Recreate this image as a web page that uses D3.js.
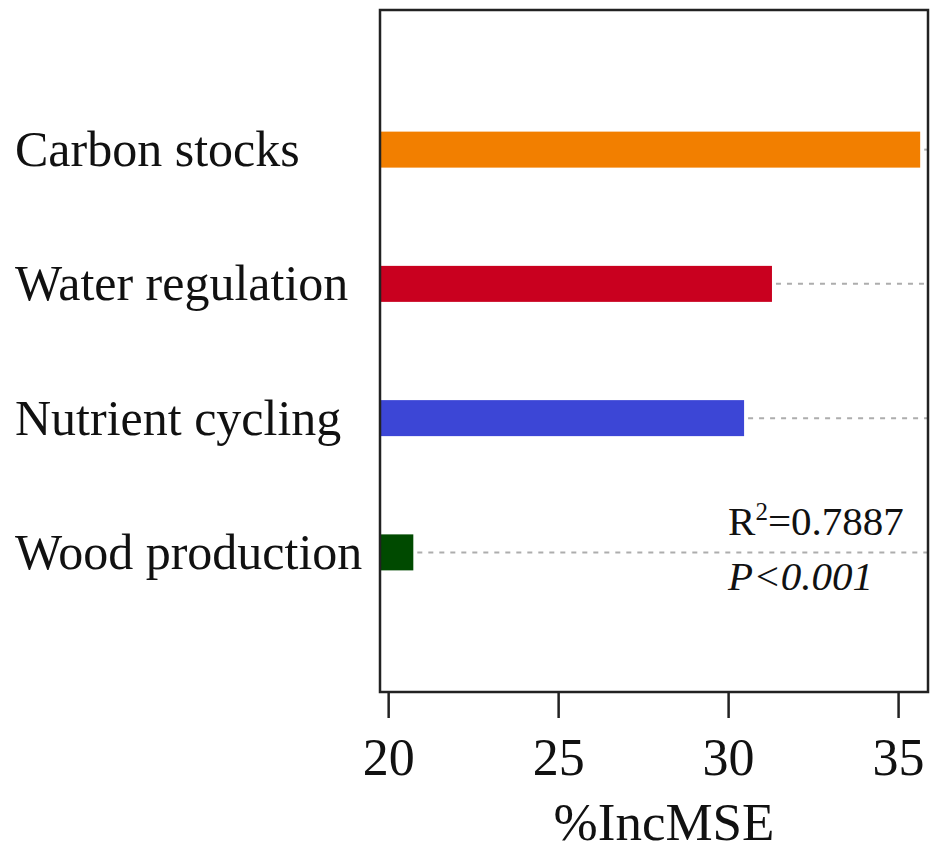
<!DOCTYPE html>
<html>
<head>
<meta charset="utf-8">
<script src="https://cdn.jsdelivr.net/npm/d3@7/dist/d3.min.js"></script>
<style>
  body { margin: 0; background: #fff; }
  svg { display: block; font-family: "Liberation Serif", "Times New Roman", serif; }
</style>
</head>
<body>
<svg id="chart" width="933" height="850"></svg>
<script>
(function() {
    // data
    var categories = ["Carbon stocks", "Water regulation", "Nutrient cycling", "Wood production"];
    var incMSE = [35.65, 31.29, 30.47, 20.74];
    var barColors = ["#f27f00", "#c9001f", "#3c46d6", "#004a00"];
    var tickValues = [20, 25, 30, 35];
    var r2Label = "0.7887";
    var pLabel = "P<0.001";

    var svg = d3.select("#chart"),
        left = 380, right = 928, top = 10, bottom = 692;

    var x = d3.scaleLinear().domain([19.76, 35.88]).range([left, right]);
    var y = d3.scalePoint().domain(categories).range([top, bottom]).padding(1.04);
    var barH = 36;

    var data = categories.map(function(c, i) {
        return { name: c, value: incMSE[i], color: barColors[i] };
    });

    // dotted guide from bar end to the right border
    svg.selectAll("line.guide")
        .data(data)
        .enter().append("line")
        .attr("class", "guide")
        .attr("x1", function(d) { return x(d.value) + 4; })
        .attr("x2", right)
        .attr("y1", function(d) { return y(d.name); })
        .attr("y2", function(d) { return y(d.name); })
        .attr("stroke", "#adadad")
        .attr("stroke-width", 2)
        .attr("stroke-dasharray", "5,6");

    // bars
    svg.selectAll("rect.bar")
        .data(data)
        .enter().append("rect")
        .attr("class", "bar")
        .attr("x", x(x.domain()[0]))
        .attr("y", function(d) { return y(d.name) - barH / 2; })
        .attr("width", function(d) { return x(d.value) - x(x.domain()[0]); })
        .attr("height", barH)
        .attr("fill", function(d) { return d.color; });

    // category labels
    svg.selectAll("text.cat")
        .data(data)
        .enter().append("text")
        .attr("class", "cat")
        .attr("x", 15)
        .attr("y", function(d) { return y(d.name); })
        .attr("dy", "0.33em")
        .attr("font-size", 50)
        .attr("fill", "#111")
        .text(function(d) { return d.name; });

    // frame
    svg.append("rect")
        .attr("x", left).attr("y", top)
        .attr("width", right - left).attr("height", bottom - top)
        .attr("fill", "none")
        .attr("stroke", "#222")
        .attr("stroke-width", 2.5);

    // x axis
    var axis = svg.append("g")
        .attr("transform", "translate(0," + bottom + ")")
        .call(d3.axisBottom(x).tickValues(tickValues).tickSize(26).tickPadding(20).tickFormat(d3.format("d")));
    axis.select(".domain").remove();
    axis.selectAll(".tick line").attr("stroke", "#222").attr("stroke-width", 2.5);
    axis.selectAll(".tick text")
        .attr("font-size", 52)
        .attr("font-family", "Liberation Serif, serif")
        .attr("fill", "#111");

    svg.append("text")
        .attr("x", 664)
        .attr("y", 840)
        .attr("text-anchor", "middle")
        .attr("font-size", 53)
        .attr("fill", "#111")
        .text("%IncMSE");

    // fit statistics
    var yw = y(categories[3]);
    var r2 = svg.append("text")
        .attr("x", x(30))
        .attr("y", yw - 17)
        .attr("font-size", 41)
        .attr("fill", "#111");
    r2.append("tspan").text("R");
    r2.append("tspan").attr("font-size", 25).attr("dy", -15).text("2");
    r2.append("tspan").attr("dy", 15).text("=" + r2Label);

    svg.append("text")
        .attr("x", x(30))
        .attr("y", yw + 38)
        .attr("font-size", 41)
        .attr("font-style", "italic")
        .attr("fill", "#111")
        .text(pLabel);
})();
</script>
</body>
</html>
